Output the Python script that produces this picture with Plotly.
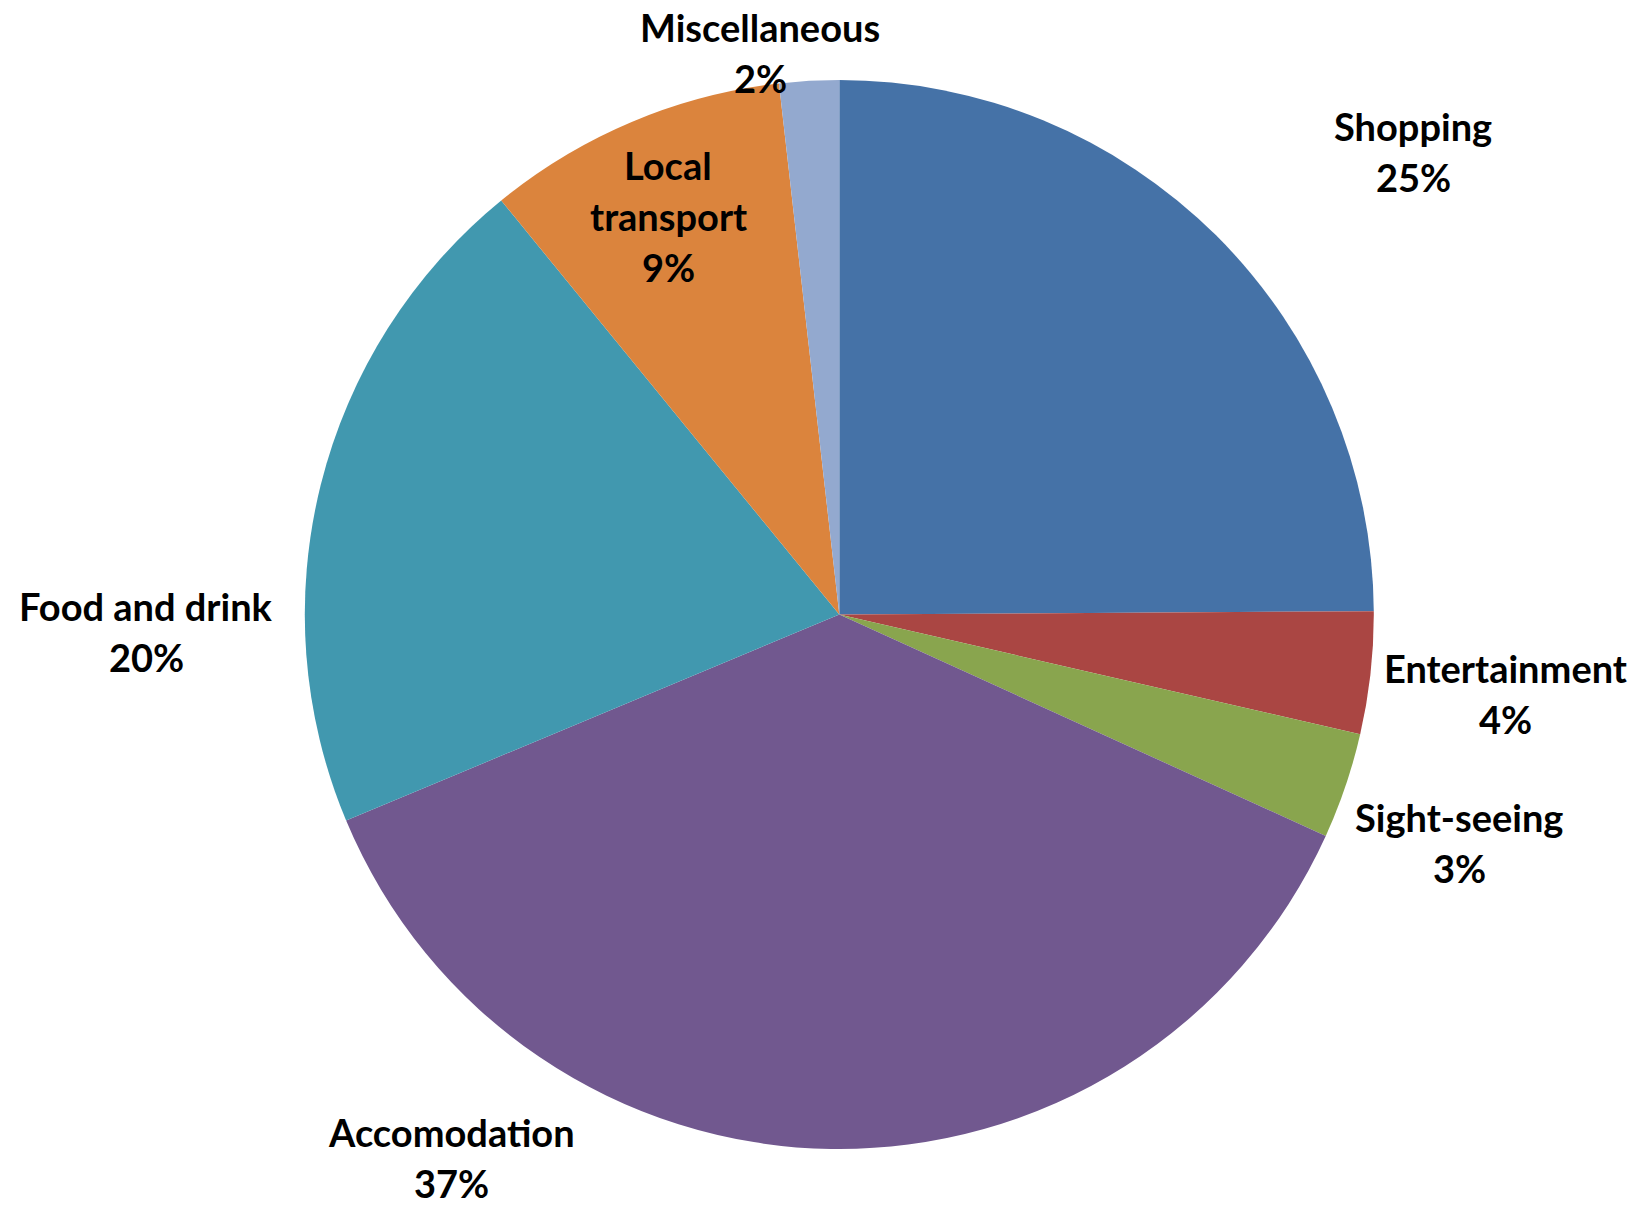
import plotly.graph_objects as go

# ---- data ----
categories = ["Shopping", "Entertainment", "Sight-seeing", "Accomodation",
              "Food and drink", "Local transport", "Miscellaneous"]
values = [24.9, 3.7, 3.2, 36.9, 20.4, 9.1, 1.8]
colors = ["#4572A7", "#AA4643", "#89A54E", "#71588F", "#4198AF", "#DB843D", "#93A9CF"]

# ---- layout constants ----
W, H = 1647, 1208
cx, cy, r = 839.3, 614.5, 534.5

label_lines = {
    "Shopping": ["Shopping"],
    "Entertainment": ["Entertainment"],
    "Sight-seeing": ["Sight-seeing"],
    "Accomodation": ["Accomodation"],
    "Food and drink": ["Food and drink"],
    "Local transport": ["Local", "transport"],
    "Miscellaneous": ["Miscellaneous"],
}
# first-line centre, page pixels
label_pos = {
    "Shopping": (1413, 126),
    "Entertainment": (1505, 668),
    "Sight-seeing": (1459, 817),
    "Accomodation": (451, 1132),
    "Food and drink": (146, 606),
    "Local transport": (668, 165),
    "Miscellaneous": (760, 27),
}
LINE = 51
FONT = dict(family="Lato, 'Open Sans', sans-serif", size=38, color="#000000", weight="bold")

total = sum(values)

fig = go.Figure(go.Pie(
    labels=categories,
    values=values,
    sort=False,
    direction="clockwise",
    rotation=0,
    marker=dict(colors=colors, line=dict(width=0)),
    textinfo="none",
    hoverinfo="label+percent",
    showlegend=False,
    domain=dict(x=[(cx - r) / W, (cx + r) / W],
                y=[(H - cy - r) / H, (H - cy + r) / H]),
))

annotations = []
for cat, val in zip(categories, values):
    lines = label_lines[cat] + [f"{round(val / total * 100):.0f}%"]
    x0, y0 = label_pos[cat]
    for i, t in enumerate(lines):
        annotations.append(dict(
            x=x0 / W, y=1 - (y0 + i * LINE) / H,
            xref="paper", yref="paper",
            text=t, showarrow=False, xanchor="center", yanchor="middle",
            font=FONT,
        ))

fig.update_layout(
    width=W, height=H,
    margin=dict(l=0, r=0, t=0, b=0),
    paper_bgcolor="white", plot_bgcolor="white",
    annotations=annotations,
)

fig.write_html(
    "out.html",
    config={"displayModeBar": False},
    post_script="document.body.style.margin='0';document.body.style.overflow='hidden';",
)
